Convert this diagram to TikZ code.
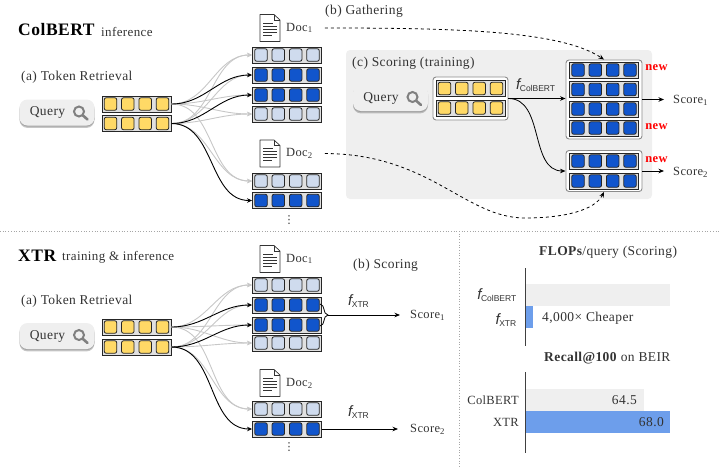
\documentclass[tikz,border=0pt]{standalone}
\usepackage{fontspec}
\setmainfont[LetterSpace=3]{Liberation Serif}
\setsansfont{Liberation Sans}
\newfontfamily\symfont{DejaVu Sans}
\usetikzlibrary{arrows.meta,shadows,decorations.pathreplacing}

\definecolor{tokenyellow}{HTML}{FFD966}
\definecolor{tokenblue}{HTML}{1155CC}
\definecolor{tokenpale}{HTML}{CFDBEE}
\definecolor{panelgray}{HTML}{EFEFEF}
\definecolor{barblue}{HTML}{6D9EEB}
\definecolor{inkgray}{HTML}{333333}

\tikzset{
    rowbox/.style={draw=black!85, line width=0.9pt, fill=black!12, minimum width=69pt, minimum height=16pt, inner sep=0pt},
    cell/.style={draw=black!85, line width=0.8pt, rounded corners=2pt, minimum size=12.5pt, inner sep=0pt},
    groupbox/.style={draw=black!45, line width=0.9pt, fill=white, rounded corners=3pt, inner sep=0pt},
    button/.style={fill=panelgray, rounded corners=8pt, minimum width=75pt, minimum height=26pt, inner sep=0pt,
        double copy shadow={shadow xshift=0pt, shadow yshift=-1.2pt, fill=black!50, draw=none, opacity=0.45},
        text=inkgray, font=\fontsize{13.5}{15}\selectfont},
    label/.style={text=inkgray, inner sep=0pt, font=\fontsize{13.5}{15}\selectfont},
    small/.style={text=inkgray, inner sep=0pt, font=\fontsize{12.5}{14}\selectfont},
    newtag/.style={text=red, inner sep=0pt, font=\fontsize{12.5}{14}\selectfont\bfseries},
    hit/.style={draw=black, line width=0.9pt, -{Stealth[length=5pt,width=4.5pt]}},
    miss/.style={draw=black!22, line width=0.9pt, -{Stealth[length=5pt,width=4.5pt]}},
    score/.style={draw=black, line width=0.8pt, -{Stealth[length=5.5pt,width=4.5pt]}},
    gather/.style={draw=black, line width=0.8pt, dashed, -{Stealth[length=5.5pt,width=4.5pt]}},
    sep/.style={draw=black!35, line width=0.7pt, dotted},
    axis/.style={draw=black!75, line width=1pt}
}

\newcommand{\tokenrow}[3]{
    \node[rowbox] (#1) at (#2) {};
    \foreach \dx [count=\i] in {-26,-8.7,8.7,26}
        \node[cell, fill=#3] (#1-\i) at ([xshift=\dx pt]#1.center) {};
}
\newcommand{\querybutton}[2]{
    \node[button] (#1) at (#2) {Query\kern19pt};
    \begin{scope}[shift={(#1.center)}]
        \draw[black!50, line width=2pt] (22,-1) circle (5);
        \draw[black!50, line width=2.6pt, line cap=round] (26,3) -- (30.5,7);
    \end{scope}
}
\newcommand{\docicon}[1]{
    \begin{scope}[shift={(#1)}]
        \draw[black!80, line width=0.7pt, fill=white, line join=round] (-10,-13.5) -- (4,-13.5) -- (10,-8) -- (10,13.5) -- (-10,13.5) -- cycle;
        \draw[black!80, line width=0.7pt] (4,-13.5) -- (4,-8) -- (10,-8);
        \foreach \ly/\lx in {-5/3,-2/7,1/7,4/7,7/2}
            \draw[black!80, line width=0.7pt] (-7,\ly) -- (\lx,\ly);
    \end{scope}
}
\newcommand{\fname}[1]{{\sffamily\fontsize{15}{15}\selectfont\itshape f}\kern-0.5pt\textsubscript{\sffamily\fontsize{8.5}{9}\selectfont #1}}

\begin{document}
\begin{tikzpicture}[x=1pt, y=-1pt]
    \useasboundingbox (0,0) rectangle (719,466);

    % ---- upper half
    \node[inner sep=0pt, anchor=west, font=\fontsize{17.5}{20}\selectfont\bfseries] (titlea) at (18,30) {ColBERT};
    \node[small, anchor=west, font=\fontsize{13}{15}\selectfont] (subtitlea) at (101,32) {inference};
    \node[label, anchor=west] (stepa) at (21,77) {(a) Token Retrieval};
    \node[label, anchor=west] (stepb) at (325,11) {(b) Gathering};

    \fill[panelgray, rounded corners=4pt] (346,50) rectangle (652,199);
    \node[label, anchor=west] (stepc) at (352,63) {(c) Scoring (training)};

    \querybutton{querya}{57,112.5}
    \tokenrow{qa}{136.5,104}{tokenyellow}
    \tokenrow{qb}{136.5,123.5}{tokenyellow}

    \docicon{270,28}
    \docicon{270,153.5}
    \node[small, anchor=west] (doca) at (286,28) {Doc\textsubscript{1}};
    \node[small, anchor=west] (docb) at (286,153.5) {Doc\textsubscript{2}};

    \tokenrow{ra}{287,55}{tokenpale}
    \tokenrow{rb}{287,75}{tokenblue}
    \tokenrow{rc}{287,95}{tokenblue}
    \tokenrow{rd}{287,114}{tokenpale}
    \tokenrow{re}{287,181}{tokenpale}
    \tokenrow{rf}{287,200.5}{tokenblue}
    \node[small, font=\symfont\fontsize{11}{12}\selectfont] (moreup) at (289,220) {⋮};

    \foreach \from/\to in {qa/ra,qb/ra,qb/rb,qa/rc,qa/rd,qb/rd,qa/re,qb/re}
        \draw[miss] (\from.east) to[out=0, in=180] (\to.west);
    \foreach \from/\to in {qa/rb,qb/rc,qb/rf}
        \draw[hit] (\from.east) to[out=0, in=180] (\to.west);

    % panel with the gathered rows
    \node[groupbox, minimum width=75pt, minimum height=43pt] (qgroup) at (470.5,98.5) {};
    \tokenrow{qc}{470.5,88.5}{tokenyellow}
    \tokenrow{qd}{470.5,108}{tokenyellow}
    \querybutton{queryb}{390.5,98}

    \node[groupbox, minimum width=76pt, minimum height=79pt] (groupa) at (604,99.5) {};
    \tokenrow{sa}{604,70}{tokenblue}
    \tokenrow{sb}{604,89.5}{tokenblue}
    \tokenrow{sc}{604,109}{tokenblue}
    \tokenrow{sd}{604,128}{tokenblue}
    \node[groupbox, minimum width=76pt, minimum height=41pt] (groupb) at (604,171) {};
    \tokenrow{se}{604,161}{tokenblue}
    \tokenrow{sf}{604,181}{tokenblue}

    \node[newtag] (newa) at (656.5,68) {new};
    \node[newtag] (newb) at (656.5,127) {new};
    \node[newtag] (newc) at (656.5,160) {new};
    \node[text=inkgray, inner sep=0pt, anchor=west] (fcolbert) at (516,85) {\fname{ColBERT}};
    \node[small, anchor=west] (scorea) at (673,100) {Score\textsubscript{1}};
    \node[small, anchor=west] (scoreb) at (673,172) {Score\textsubscript{2}};

    \draw[score] (qgroup.east) -- (qgroup.east -| groupa.west);
    \draw[score] (qgroup.east) to[out=0, in=180] (groupb.west);
    \draw[score] (groupa.east) -- ([xshift=-9pt]groupa.east -| scorea.west);
    \draw[score] (groupb.east) -- ([xshift=-9pt]groupb.east -| scoreb.west);

    \draw[gather] (doca.east) ++(12,0) .. controls (450,28) and (560,30) .. (groupa.north);
    \draw[gather] (docb.east) ++(12,0) .. controls (430,154) and (465,218) .. (525,218)
        .. controls (565,218) and (595,210) .. (groupb.south);

    % ---- separators
    \draw[sep] (0,231) -- (719,231);
    \draw[sep] (459,231) -- (459,466);

    % ---- lower left
    \node[inner sep=0pt, anchor=west, font=\fontsize{17.5}{20}\selectfont\bfseries] (titleb) at (18,256) {XTR};
    \node[small, anchor=west, font=\fontsize{13}{15}\selectfont] (subtitleb) at (62,257) {training \& inference};
    \node[label, anchor=west] (stepd) at (21,301) {(a) Token Retrieval};
    \node[label, anchor=west] (stepe) at (353,265) {(b) Scoring};

    \querybutton{queryc}{57,336}
    \tokenrow{qe}{136.5,327}{tokenyellow}
    \tokenrow{qf}{136.5,347}{tokenyellow}

    \docicon{270,259}
    \docicon{270,383}
    \node[small, anchor=west] (docc) at (286,259) {Doc\textsubscript{1}};
    \node[small, anchor=west] (docd) at (286,383) {Doc\textsubscript{2}};

    \tokenrow{ta}{287,285}{tokenpale}
    \tokenrow{tb}{287,305}{tokenblue}
    \tokenrow{tc}{287,325}{tokenblue}
    \tokenrow{td}{287,343}{tokenpale}
    \tokenrow{te}{287,409}{tokenpale}
    \tokenrow{tf}{287,429}{tokenblue}
    \node[small, font=\symfont\fontsize{11}{12}\selectfont] (moredown) at (289,447) {⋮};

    \foreach \from/\to in {qe/ta,qf/ta,qf/tb,qe/tc,qe/td,qf/td,qe/te,qf/te}
        \draw[miss] (\from.east) to[out=0, in=180] (\to.west);
    \foreach \from/\to in {qe/tb,qf/tc,qf/tf}
        \draw[hit] (\from.east) to[out=0, in=180] (\to.west);

    \node[text=inkgray, inner sep=0pt, anchor=west] (fxtra) at (348,301) {\fname{XTR}};
    \node[text=inkgray, inner sep=0pt, anchor=west] (fxtrb) at (348,412) {\fname{XTR}};
    \node[small, anchor=west] (scorec) at (410,315) {Score\textsubscript{1}};
    \node[small, anchor=west] (scored) at (410,429) {Score\textsubscript{2}};

    \draw[decorate, decoration={brace, amplitude=8pt}, draw=black, line width=0.8pt] (320,304) -- (320,326)
        coordinate[midway, xshift=8pt] (bracetip);
    \draw[score] (bracetip) -- ([xshift=-10pt]scorec.west);
    \draw[score] (tf.east) -- ([xshift=-12pt]scored.west);

    % ---- lower right, the two charts
    \node[label, anchor=west] (flops) at (539,252) {\textbf{FLOPs}/query (Scoring)};
    \fill[panelgray] (526,284) rectangle (670,306);
    \fill[barblue] (526,306) rectangle (533,328);
    \draw[axis] (525,268) -- (525,346);
    \node[text=inkgray, inner sep=0pt, anchor=east] (flopa) at (517,295) {\fname{ColBERT}};
    \node[text=inkgray, inner sep=0pt, anchor=east] (flopb) at (517,320) {\fname{XTR}};
    \node[label, anchor=west] (cheaper) at (542,318) {4,000× Cheaper};

    \node[label, anchor=west] (recall) at (544,358) {\textbf{Recall@100} on BEIR};
    \fill[panelgray] (526,389) rectangle (644,411);
    \fill[barblue] (526,411) rectangle (670,433);
    \draw[axis] (525,372) -- (525,453);
    \node[small, anchor=east] (recalla) at (519,400) {ColBERT};
    \node[small, anchor=east] (recallb) at (519,422) {XTR};
    \node[label, anchor=east] (vala) at (637,400) {64.5};
    \node[label, anchor=east] (valb) at (664,422) {68.0};
\end{tikzpicture}
\end{document}
